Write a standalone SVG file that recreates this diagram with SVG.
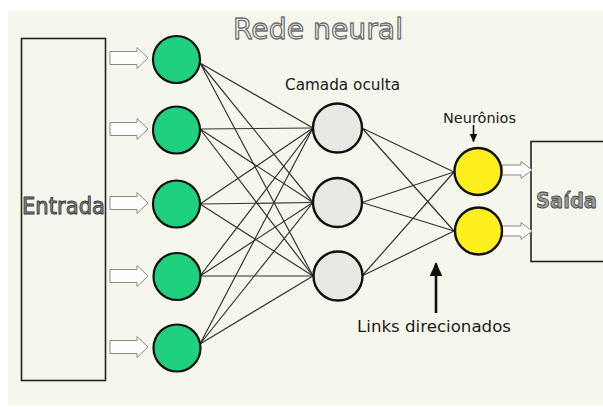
<svg xmlns="http://www.w3.org/2000/svg" xmlns:xlink="http://www.w3.org/1999/xlink" width="603" height="407" viewBox="0 0 603 407">
<style>
.t{font-family:"DejaVu Sans","Noto Sans",sans-serif;}
.lbl{fill:#1a1a1a;}
.outline{stroke-linejoin:round;}
.box{fill:none;stroke:#222;stroke-width:1.6;}
.in{fill:#1fd17e;stroke:#111;stroke-width:2.2;}
.hid{fill:#e9e9e3;stroke:#111;stroke-width:2.4;}
.out{fill:#fdee1e;stroke:#111;stroke-width:2.4;}
.link{stroke:#333;stroke-width:1.2;fill:none;}
.hollow{fill:#fdfdfb;stroke:#8a8a8a;stroke-width:1;}
.pointer{stroke:#111;fill:none;}
</style>
<defs>
<path id="arrowIn" d="M-38,-6.5 H-11 V-10.5 L0,0 L-11,10.5 V6.5 H-38 Z"/>
<path id="arrowOut" d="M-30,-5 H-11 V-8.5 L0,0 L-11,8.5 V5 H-30 Z"/>
<marker id="head" viewBox="0 0 10 10" refX="9" refY="5" markerWidth="5.5" markerHeight="5.5" orient="auto" markerUnits="strokeWidth">
<path d="M0,0.5 L10,5 L0,9.5 Z" fill="#111"/>
</marker>
</defs>
<rect x="0" y="0" width="603" height="407" fill="#ffffff"/>
<rect x="8" y="10" width="595" height="396" fill="#f6f7ec"/>

<g id="title">
<text class="t outline" x="233" y="39" font-size="29" textLength="170" lengthAdjust="spacingAndGlyphs" fill="#f7f7f7" stroke="#6e6e6e" stroke-width="1.3">Rede neural</text>
</g>

<g id="entrada">
<rect class="box" x="21.5" y="38.5" width="84" height="342"/>
<text class="t outline" x="22" y="214" font-size="23" textLength="83" lengthAdjust="spacingAndGlyphs" fill="#8e8e8e" stroke="#3c3c3c" stroke-width="1">Entrada</text>
</g>

<g id="saida">
<rect class="box" x="531" y="141.5" width="90" height="120"/>
<text class="t outline" x="536" y="208" font-size="22" font-weight="bold" textLength="61" lengthAdjust="spacingAndGlyphs" fill="#9a9a9a" stroke="#4a4a4a" stroke-width="0.9">Saída</text>
</g>

<g id="input-arrows">
<use xlink:href="#arrowIn" href="#arrowIn" class="hollow" transform="translate(148,58)"/>
<use xlink:href="#arrowIn" href="#arrowIn" class="hollow" transform="translate(148,129)"/>
<use xlink:href="#arrowIn" href="#arrowIn" class="hollow" transform="translate(148,203)"/>
<use xlink:href="#arrowIn" href="#arrowIn" class="hollow" transform="translate(148,276)"/>
<use xlink:href="#arrowIn" href="#arrowIn" class="hollow" transform="translate(148,347)"/>
</g>
<g id="output-arrows">
<use xlink:href="#arrowOut" href="#arrowOut" class="hollow" transform="translate(532,170)"/>
<use xlink:href="#arrowOut" href="#arrowOut" class="hollow" transform="translate(532,231)"/>
</g>

<g id="connectors">
<path class="link" d="M200,63 L313,128 M200,63 L313,202.5 M200,63 L313,276"/>
<path class="link" d="M200,129 L313,128 M200,129 L313,202.5 M200,129 L313,276"/>
<path class="link" d="M200,204 L313,128 M200,204 L313,202.5 M200,204 L313,276"/>
<path class="link" d="M200,276 L313,128 M200,276 L313,202.5 M200,276 L313,276"/>
<path class="link" d="M200,344 L313,128 M200,344 L313,202.5 M200,344 L313,276"/>
<path class="link" d="M362,128 L454,172 M362,128 L454,231"/>
<path class="link" d="M362,202.5 L454,172 M362,202.5 L454,231"/>
<path class="link" d="M362,276 L454,172 M362,276 L454,231"/>
</g>

<g id="in1"><circle class="in" cx="176.5" cy="59.5" r="23.5"/></g>
<g id="in2"><circle class="in" cx="176.5" cy="130" r="23.5"/></g>
<g id="in3"><circle class="in" cx="176.5" cy="204" r="23.5"/></g>
<g id="in4"><circle class="in" cx="177" cy="276.5" r="23.5"/></g>
<g id="in5"><circle class="in" cx="177" cy="348" r="23.5"/></g>

<g id="hid1"><circle class="hid" cx="337.5" cy="128" r="24.5"/></g>
<g id="hid2"><circle class="hid" cx="337.5" cy="202.5" r="24.5"/></g>
<g id="hid3"><circle class="hid" cx="338" cy="276" r="24.5"/></g>

<g id="out1"><circle class="out" cx="478" cy="171.5" r="23.5"/></g>
<g id="out2"><circle class="out" cx="478.5" cy="231" r="23.5"/></g>

<g id="label-camada">
<text class="t lbl" x="285" y="90" font-size="15" textLength="115" lengthAdjust="spacingAndGlyphs">Camada oculta</text>
</g>
<g id="label-neuronios">
<text class="t lbl" x="443" y="122.5" font-size="14" textLength="73" lengthAdjust="spacingAndGlyphs">Neurônios</text>
<line class="pointer" x1="473.5" y1="125" x2="473.5" y2="141.5" stroke-width="1.6" marker-end="url(#head)"/>
</g>
<g id="label-links">
<line class="pointer" x1="436" y1="313" x2="436" y2="263.5" stroke-width="2.6" marker-end="url(#head)"/>
<text class="t lbl" x="357" y="331.5" font-size="16.5" textLength="154" lengthAdjust="spacingAndGlyphs">Links direcionados</text>
</g>
</svg>
